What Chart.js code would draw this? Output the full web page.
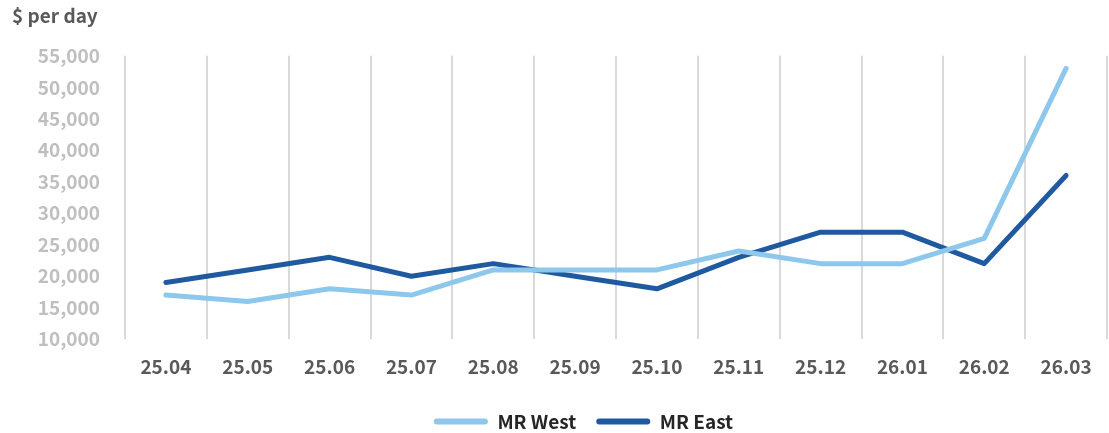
<!DOCTYPE html>
<html>
<head>
<meta charset="utf-8">
<script src="https://cdn.jsdelivr.net/npm/chart.js@4.4.1/dist/chart.umd.min.js"></script>
<style>
  html, body { margin: 0; padding: 0; background: #fff; }
  #wrap { width: 1109px; height: 433px; position: relative; }
</style>
</head>
<body>
<div id="wrap"><canvas id="rateChart"></canvas></div>
<script>
// monthly MR tanker rates, $ per day
const months = ["25.04", "25.05", "25.06", "25.07", "25.08", "25.09",
                "25.10", "25.11", "25.12", "26.01", "26.02", "26.03"];
const mrWest = [17000, 16000, 18000, 17000, 21000, 21000,
                21000, 24000, 22000, 22000, 26000, 53000];
const mrEast = [19000, 21000, 23000, 20000, 22000, 20000,
                18000, 23000, 27000, 27000, 22000, 36000];
const yMin = 10000;
const yMax = 55000;
const yStep = 5000;

const FONT = "'Noto Sans CJK KR', 'Noto Sans', sans-serif";

function series(label, data, color) {
  return {
    label,
    data,
    borderColor: color,
    backgroundColor: color,
    borderWidth: 5,
    tension: 0,
    pointRadius: 0,
    borderCapStyle: "round",
    borderJoinStyle: "round",
    fill: false,
  };
}

// nudge the legend a little right of the canvas centre and up a bit
const legendShift = {
  id: "legendShift",
  afterLayout(chart) {
    if (!chart.legend) return;
    chart.legend.left += 48;
    chart.legend.top -= 2;
  },
};

new Chart(document.getElementById("rateChart"), {
  type: "line",
  data: {
    labels: months,
    datasets: [
      series("MR West", mrWest, "#8dc7ec"),
      series("MR East", mrEast, "#1f5aa0"),
    ],
  },
  plugins: [legendShift],
  options: {
    responsive: true,
    maintainAspectRatio: false,
    animation: false,
    layout: { padding: { left: 12, right: 2, top: 4, bottom: -10 } },
    plugins: {
      title: {
        display: true,
        text: "$ per day",
        align: "start",
        color: "#595959",
        font: { family: FONT, size: 19, weight: "bold" },
        padding: { top: 0, bottom: 29 },
      },
      legend: {
        display: true,
        position: "bottom",
        labels: {
          color: "#262626",
          font: { family: FONT, size: 19, weight: "bold" },
          boxWidth: 54,
          boxHeight: 6,
          padding: 20,
          useBorderRadius: true,
          borderRadius: 3,
          generateLabels(chart) {
            const items = Chart.defaults.plugins.legend.labels.generateLabels(chart);
            items.forEach((it) => {
              it.lineWidth = 0;
              it.fillStyle = it.strokeStyle;
            });
            return items;
          },
        },
      },
      tooltip: { enabled: false },
    },
    scales: {
      x: {
        offset: true,
        grid: {
          display: true,
          offset: true,
          color: "#d9d9d9",
          lineWidth: 2,
          drawTicks: false,
        },
        border: { display: false },
        ticks: {
          color: "#595959",
          font: { family: FONT, size: 19, weight: "bold" },
          padding: 16,
          maxRotation: 0,
          autoSkip: false,
        },
      },
      y: {
        min: yMin,
        max: yMax,
        grid: { display: false, drawTicks: false },
        border: { display: false },
        ticks: {
          stepSize: yStep,
          color: "#bfbfbf",
          font: { family: FONT, size: 19, weight: "bold" },
          padding: 25,
          callback: (v) => v.toLocaleString("en-US"),
        },
        afterFit(scale) {
          scale.width = 113;
        },
      },
    },
  },
});
</script>
</body>
</html>
